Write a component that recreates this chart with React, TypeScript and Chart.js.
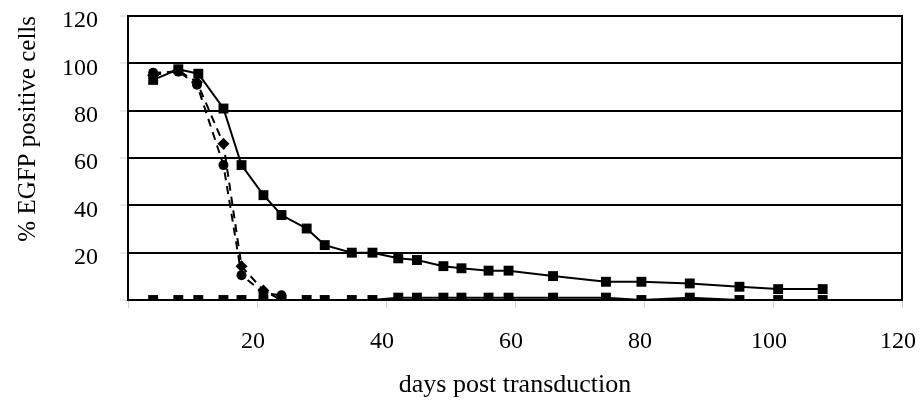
import { useEffect, useRef } from 'react';
import { Chart, registerables } from 'chart.js';

Chart.register(...registerables);

// days post transduction (shared by the two square-marker series)
const daysA = [3.9, 7.8, 10.9, 14.8, 17.6, 21, 23.8, 27.7, 30.5, 34.7, 37.9, 41.9, 44.8, 48.9, 51.7, 55.9, 59, 65.9, 74.1, 79.6, 87.1, 94.8, 100.8, 107.7];
// % EGFP positive cells
const pctA = [93, 97.5, 95.6, 80.9, 57, 44.3, 35.9, 30.2, 23.2, 20, 20, 17.6, 16.9, 14.3, 13.4, 12.4, 12.4, 10.1, 7.7, 7.7, 7, 5.6, 4.6, 4.6];
const pctD = [0, 0, 0, 0, 0, 0, 0, 0, 0, 0, 0, 1, 1, 1, 1, 1, 1, 1, 1, 0, 1, 0, 0, 0];

const daysB = [3.9, 7.8, 10.7, 14.8, 17.6, 21, 23.8];
const pctB = [95, 97, 92, 66, 14.3, 4, 0];
const daysC = [3.9, 7.8, 10.7, 14.8, 17.6, 21, 23.8];
const pctC = [96, 96.5, 91, 57, 10.5, 3, 2];

const xMin = 0;
const xMax = 120;
const yMin = 0;
const yMax = 120;
const tickStep = 20;

const FONT = '"Liberation Serif", "Times New Roman", serif';

const pts = (xs: number[], ys: number[]) => xs.map((x, i) => ({ x, y: ys[i] }));

const framePlugin = {
  id: 'frame',
  afterDatasetsDraw(chart: any) {
    const { left, top, right, bottom } = chart.chartArea;
    const ctx = chart.ctx;
    ctx.save();
    ctx.strokeStyle = '#000';
    ctx.lineWidth = 2;
    ctx.strokeRect(left, top, right - left, bottom - top);
    ctx.restore();
  },
};

export default function App() {
  const ref = useRef<HTMLCanvasElement | null>(null);

  useEffect(() => {
    if (!ref.current) return;
    const common = {
      showLine: true,
      borderColor: '#000',
      backgroundColor: '#000',
      borderWidth: 2,
      pointBorderWidth: 0,
      clip: 0,
    };
    const chart = new Chart(ref.current, {
      type: 'scatter',
      data: {
        datasets: [
          { ...common, data: pts(daysB, pctB), borderDash: [8, 6], pointStyle: 'rectRot', pointRadius: 6 },
          { ...common, data: pts(daysC, pctC), borderDash: [8, 6], pointStyle: 'circle', pointRadius: 5 },
          { ...common, data: pts(daysA, pctD), pointStyle: 'rect', pointRadius: 7 },
          { ...common, data: pts(daysA, pctA), pointStyle: 'rect', pointRadius: 7 },
        ] as any,
      },
      options: {
        animation: false,
        responsive: true,
        maintainAspectRatio: false,
        layout: { padding: { left: 0, right: 18, top: 16, bottom: 0 } },
        plugins: {
          legend: { display: false },
          tooltip: { enabled: false },
        },
        scales: {
          x: {
            type: 'linear',
            min: xMin,
            max: xMax,
            ticks: {
              stepSize: tickStep,
              color: '#000',
              padding: 19,
              labelOffset: -4,
              font: { family: FONT, size: 24 },
              callback: (v: any) => (v === 0 ? '' : String(v)),
            },
            grid: {
              drawOnChartArea: false,
              drawTicks: true,
              tickLength: 8,
              tickColor: '#d4d4d4',
              tickWidth: 1,
            },
            border: { display: true, color: '#000', width: 2 },
            title: {
              display: true,
              text: 'days post transduction',
              color: '#000',
              font: { family: FONT, size: 26 },
              padding: { top: 0, bottom: 1 },
            },
            afterFit: (s: any) => {
              s.height = 102;
              s.paddingLeft = 0;
              s.paddingRight = 0;
            },
          },
          y: {
            type: 'linear',
            min: yMin,
            max: yMax,
            ticks: {
              stepSize: tickStep,
              color: '#000',
              padding: 22,
              labelOffset: 5,
              font: { family: FONT, size: 24 },
              callback: (v: any) => (v === 0 ? '' : String(v)),
            },
            grid: {
              color: '#000',
              lineWidth: 2,
              drawTicks: true,
              tickLength: 8,
              tickColor: '#d4d4d4',
              tickWidth: 1,
            },
            border: { display: true, color: '#000', width: 2 },
            title: {
              display: true,
              align: 'end',
              text: '% EGFP positive cells',
              color: '#000',
              font: { family: FONT, size: 25 },
              padding: { top: 13, bottom: 0 },
            },
            afterFit: (s: any) => {
              s.width = 128;
              s.paddingTop = 0;
              s.paddingBottom = 0;
            },
          },
        },
      },
      plugins: [framePlugin],
    });
    return () => chart.destroy();
  }, []);

  return (
    <div style={{ position: 'absolute', left: 0, top: 0, width: 920, height: 402, background: '#fff' }}>
      <canvas ref={ref} />
    </div>
  );
}
